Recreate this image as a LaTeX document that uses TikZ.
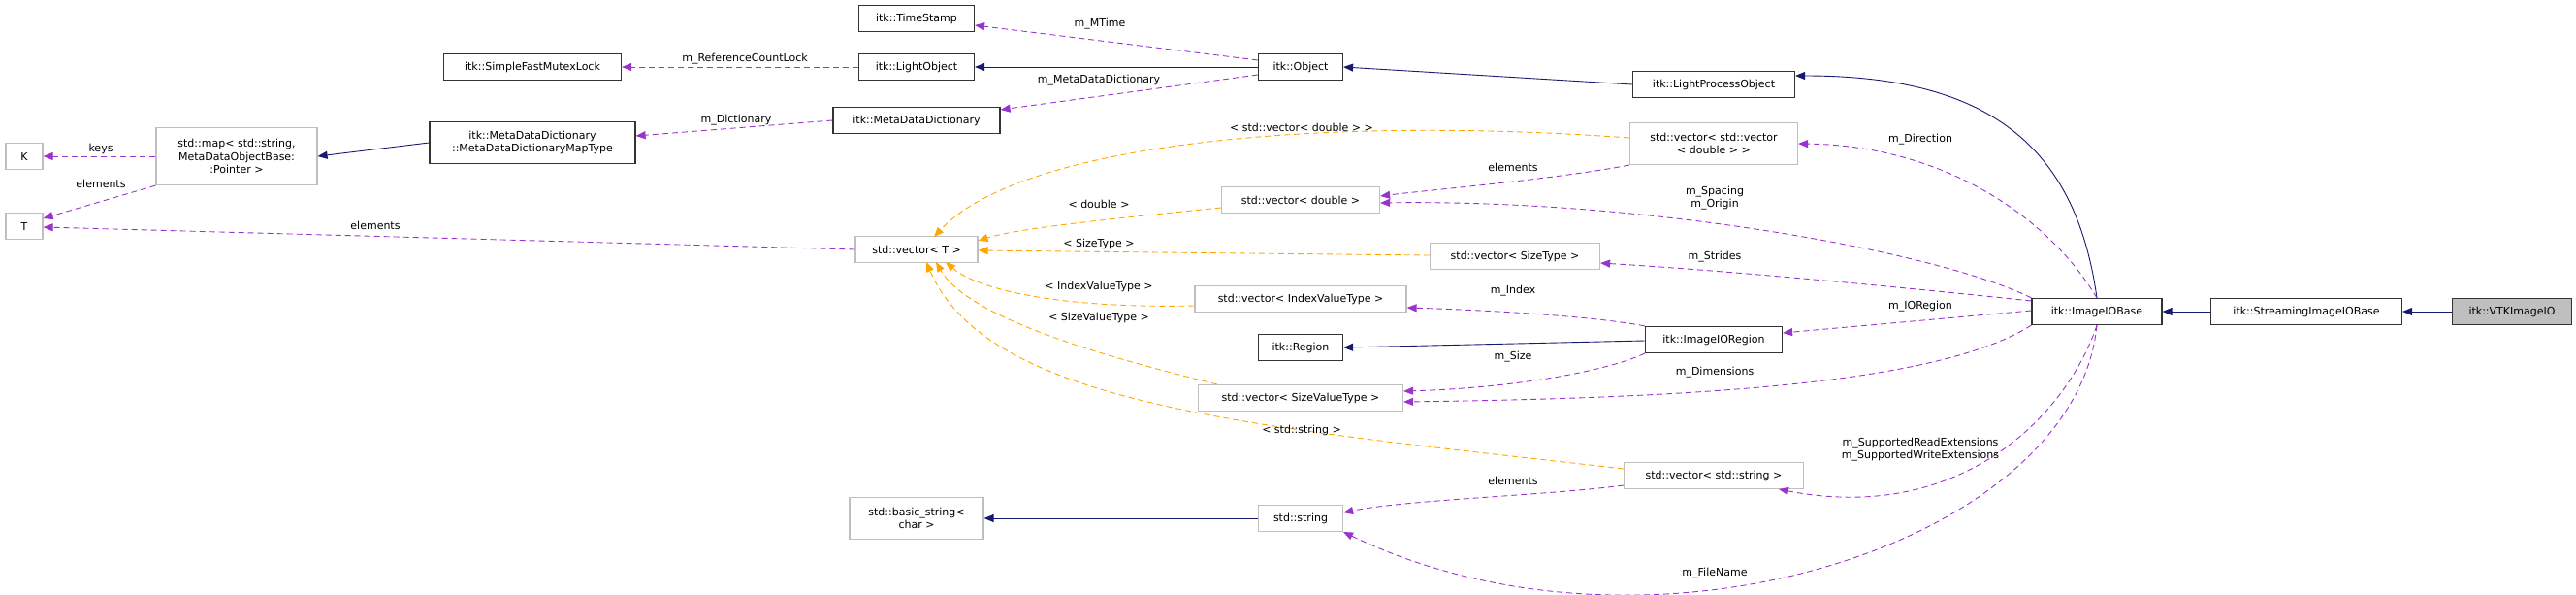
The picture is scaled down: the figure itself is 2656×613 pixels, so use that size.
\documentclass[tikz,border=0pt]{standalone}
\usepackage{fontspec}
\setmainfont{DejaVu Sans}
\usetikzlibrary{arrows.meta}
\definecolor{mem}{HTML}{9A32CD}
\definecolor{tpl}{HTML}{FFA500}
\definecolor{inh}{HTML}{191970}
\definecolor{ubord}{HTML}{BFBFBF}
\begin{document}
\begin{tikzpicture}[x=1pt,y=-1pt,
  font=\fontsize{11}{13.5}\selectfont,
  box/.style={draw=black!80,line width=1.2pt,fill=white,inner sep=0pt,minimum height=27pt,align=center},
  ubox/.style={draw=ubord,line width=1.2pt,fill=white,inner sep=0pt,minimum height=27pt,align=center},
  tip/.style={-{Triangle[length=10pt,width=8pt]}},
  memb/.style={tip,draw=mem,dash pattern=on 6pt off 4pt,line width=0.9pt},
  tmpl/.style={tip,draw=tpl,dash pattern=on 6pt off 4pt,line width=0.9pt},
  inher/.style={tip,draw=inh,line width=0.9pt},
  lbl/.style={inner sep=0pt,align=center}]
\useasboundingbox (0,0) rectangle (2656,613);
% nodes
\node[ubox,minimum width=38pt] (K) at (25,161) {K};
\node[ubox,minimum width=38pt] (T) at (25,233) {T};
\node[ubox,minimum width=166pt,minimum height=59pt] (map) at (244,161) {std::map< std::string,\\ MetaDataObjectBase:\\ :Pointer >};
\node[box,minimum width=212pt,minimum height=43pt] (mapt) at (549,147) {itk::MetaDataDictionary\\ ::MetaDataDictionaryMapType};
\node[box,minimum width=183pt] (mutex) at (549,69) {itk::SimpleFastMutexLock};
\node[box,minimum width=119pt] (ts) at (945,19) {itk::TimeStamp};
\node[box,minimum width=119pt] (lo) at (945,69) {itk::LightObject};
\node[box,minimum width=172pt] (mdd) at (945,124) {itk::MetaDataDictionary};
\node[ubox,minimum width=126pt] (vT) at (945,257) {std::vector< T >};
\node[ubox,minimum width=138pt,minimum height=43pt] (bstr) at (945,534) {std::basic\_string<\\ char >};
\node[box,minimum width=87pt] (obj) at (1341,69) {itk::Object};
\node[ubox,minimum width=163pt] (vd) at (1341,206) {std::vector< double >};
\node[ubox,minimum width=218pt] (vi) at (1341,308) {std::vector< IndexValueType >};
\node[box,minimum width=87pt] (reg) at (1341,358) {itk::Region};
\node[ubox,minimum width=211pt] (vsv) at (1341,410) {std::vector< SizeValueType >};
\node[ubox,minimum width=87pt] (str) at (1341,534) {std::string};
\node[ubox,minimum width=175pt] (vst) at (1562,264) {std::vector< SizeType >};
\node[box,minimum width=167pt] (lpo) at (1767,87) {itk::LightProcessObject};
\node[ubox,minimum width=173pt,minimum height=43pt] (vv) at (1767,148) {std::vector< std::vector\\ < double > >};
\node[box,minimum width=141pt] (ior) at (1767,350) {itk::ImageIORegion};
\node[ubox,minimum width=185pt] (vs) at (1767,490) {std::vector< std::string >};
\node[box,minimum width=134pt] (iob) at (2162,321) {itk::ImageIOBase};
\node[box,minimum width=197pt] (sio) at (2378,321) {itk::StreamingImageIOBase};
\node[box,minimum width=123pt,fill=ubord] (vtk) at (2590,321) {itk::VTKImageIO};
% inheritance
\draw[inher] (vtk) -- (sio);
\draw[inher] (sio) -- (iob);
\draw[inher] (iob.north) .. controls (2140,150) and (2050,78) .. (lpo.east |- 0,78);
\draw[inher] (lpo.west) -- (obj.east);
\draw[inher] (obj) -- (lo);
\draw[inher] (mapt.west) -- (map.east);
\draw[inher] (ior.west |- 0,351) -- (reg.east);
\draw[inher] (str) -- (bstr);
% members
\draw[memb] (map.west) -- (K);
\draw[memb] (map.south west) -- (T.east |- 0,225);
\draw[memb] (vT.west) -- (T.east |- 0,234);
\draw[memb] (lo) -- (mutex);
\draw[memb] (mdd.west) -- (mapt.east |- 0,140);
\draw[memb] (obj.west |- 0,62) -- (ts.east |- 0,26);
\draw[memb] (obj.west |- 0,77) -- (mdd.north east |- 0,113);
\draw[memb] (iob.north) .. controls (2110,220) and (2000,150) .. (vv.east);
\draw[memb] (vv.south west) .. controls (1600,185) and (1480,195) .. (vd.east |- 0,202);
\draw[memb] (iob.north west) .. controls (2000,260) and (1700,205) .. (vd.east |- 0,209);
\draw[memb] (iob.west |- 0,310) .. controls (2000,300) and (1800,280) .. (vst.east |- 0,271);
\draw[memb] (iob.west |- 0,320) -- (ior.east |- 0,343);
\draw[memb] (ior.north west) .. controls (1650,327) and (1550,320) .. (vi.east |- 0,317);
\draw[memb] (ior.south west) .. controls (1650,385) and (1550,400) .. (vsv.east |- 0,403);
\draw[memb] (iob.south west) .. controls (2000,395) and (1750,410) .. (vsv.east |- 0,414);
\draw[memb] (iob.south) .. controls (2130,430) and (2020,540) .. (1834,504);
\draw[memb] (vs.west |- 0,500) .. controls (1600,510) and (1450,515) .. (str.east |- 0,528);
\draw[memb] (iob.south) .. controls (2140,560) and (1700,700) .. (1385,548);
% templates
\draw[tmpl] (vv.west |- 0,142) .. controls (1350,118) and (1050,150) .. (963,244);
\draw[tmpl] (vd.west |- 0,214) .. controls (1150,225) and (1050,235) .. (vT.east |- 0,248);
\draw[tmpl] (vst.west |- 0,263) -- (vT.east |- 0,258);
\draw[tmpl] (vi.west |- 0,315) .. controls (1100,318) and (1010,300) .. (975,270);
\draw[tmpl] (1255,396) .. controls (1150,370) and (1000,330) .. (965,270);
\draw[tmpl] (vs.west |- 0,483) .. controls (1300,440) and (1020,420) .. (955,270);
% labels
\node[lbl] (l1) at (104,153) {keys};
\node[lbl] (l2) at (104,189) {elements};
\node[lbl] (l3) at (387,232) {elements};
\node[lbl] (l4) at (768,61) {m\_ReferenceCountLock};
\node[lbl] (l5) at (759,124) {m\_Dictionary};
\node[lbl] (l6) at (1134,25) {m\_MTime};
\node[lbl] (l7) at (1133,83) {m\_MetaDataDictionary};
\node[lbl] (l8) at (1342,131) {< std::vector< double > >};
\node[lbl] (l9) at (1560,172) {elements};
\node[lbl] (l10) at (1980,144) {m\_Direction};
\node[lbl] (l11) at (1133,210) {< double >};
\node[lbl] (l12) at (1768,204) {m\_Spacing\\ m\_Origin};
\node[lbl] (l13) at (1133,251) {< SizeType >};
\node[lbl] (l14) at (1768,265) {m\_Strides};
\node[lbl] (l15) at (1133,295) {< IndexValueType >};
\node[lbl] (l16) at (1560,300) {m\_Index};
\node[lbl] (l17) at (1133,327) {< SizeValueType >};
\node[lbl] (l18) at (1560,368) {m\_Size};
\node[lbl] (l19) at (1768,384) {m\_Dimensions};
\node[lbl] (l20) at (1980,316) {m\_IORegion};
\node[lbl] (l21) at (1342,443) {< std::string >};
\node[lbl] (l22) at (1560,495) {elements};
\node[lbl] (l23) at (1980,463) {m\_SupportedReadExtensions\\ m\_SupportedWriteExtensions};
\node[lbl] (l24) at (1768,591) {m\_FileName};
\end{tikzpicture}
\end{document}
